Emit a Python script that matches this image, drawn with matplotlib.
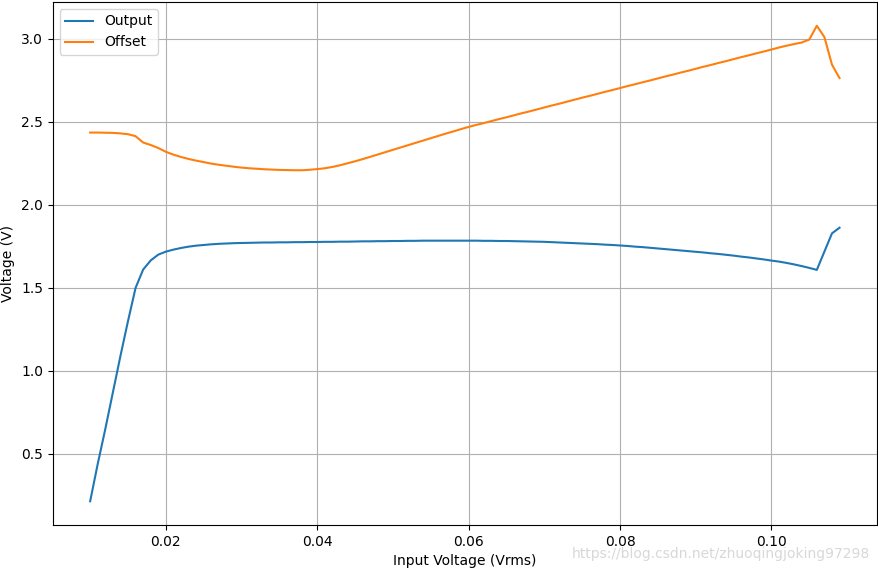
import numpy as np
import matplotlib
matplotlib.use("Agg")
import matplotlib.pyplot as plt

input_voltage = np.round(np.arange(0.010, 0.1095, 0.001), 3)

output_v = [
    0.215, 0.44, 0.65, 0.87, 1.09, 1.30, 1.50, 1.61, 1.665, 1.70,
    1.718, 1.730, 1.740, 1.748, 1.754, 1.758, 1.762, 1.765, 1.767, 1.769,
    1.770, 1.771, 1.772, 1.773, 1.773, 1.774, 1.774, 1.775, 1.775, 1.776,
    1.776, 1.777, 1.777, 1.778, 1.778, 1.779, 1.780, 1.780, 1.781, 1.781,
    1.782, 1.782, 1.783, 1.783, 1.784, 1.784, 1.784, 1.784, 1.784, 1.784,
    1.784, 1.784, 1.783, 1.783, 1.782, 1.782, 1.781, 1.780, 1.779, 1.778,
    1.777, 1.775, 1.773, 1.771, 1.769, 1.767, 1.765, 1.763, 1.760, 1.758,
    1.755, 1.752, 1.748, 1.745, 1.741, 1.737, 1.733, 1.729, 1.725, 1.721,
    1.717, 1.713, 1.708, 1.704, 1.699, 1.694, 1.688, 1.683, 1.677, 1.671,
    1.664, 1.658, 1.650, 1.641, 1.631, 1.620, 1.608, 1.718, 1.828, 1.862,
]

offset_v = [
    2.435, 2.435, 2.434, 2.433, 2.430, 2.425, 2.413, 2.375, 2.360, 2.342,
    2.319, 2.302, 2.288, 2.276, 2.266, 2.257, 2.248, 2.241, 2.235, 2.229,
    2.224, 2.220, 2.217, 2.214, 2.212, 2.210, 2.209, 2.208, 2.208, 2.211,
    2.215, 2.220, 2.228, 2.238, 2.250, 2.262, 2.275, 2.289, 2.303, 2.317,
    2.331, 2.345, 2.359, 2.373, 2.387, 2.401, 2.415, 2.429, 2.442, 2.456,
    2.469, 2.481, 2.492, 2.504, 2.516, 2.527, 2.539, 2.551, 2.562, 2.574,
    2.586, 2.598, 2.609, 2.621, 2.633, 2.645, 2.656, 2.668, 2.680, 2.691,
    2.703, 2.715, 2.726, 2.738, 2.749, 2.761, 2.773, 2.784, 2.796, 2.807,
    2.819, 2.831, 2.842, 2.854, 2.865, 2.877, 2.889, 2.900, 2.912, 2.923,
    2.935, 2.947, 2.958, 2.968, 2.977, 2.995, 3.078, 3.010, 2.844, 2.763,
]

fig = plt.figure(figsize=(8.79, 5.69), dpi=100)
ax = fig.add_axes([52.7 / 879, 1 - 525 / 569, (877 - 52.7) / 879, (525 - 2) / 569])
ax.plot(input_voltage, output_v, label="Output", color="#1f77b4", linewidth=1.5)
ax.plot(input_voltage, offset_v, label="Offset", color="#ff7f0e", linewidth=1.5)
ax.set_xlabel("Input Voltage (Vrms)")
ax.set_ylabel("Voltage (V)")
ax.grid(True, color="#b0b0b0", linewidth=0.8)
ax.legend(loc="upper left")

fig.text(870 / 879, 1 - 554 / 569, "https://blog.csdn.net/zhuoqingjoking97298",
         fontsize=10, color="#d8d8d8", ha="right", va="center")

fig.savefig("out.png", dpi=100)
